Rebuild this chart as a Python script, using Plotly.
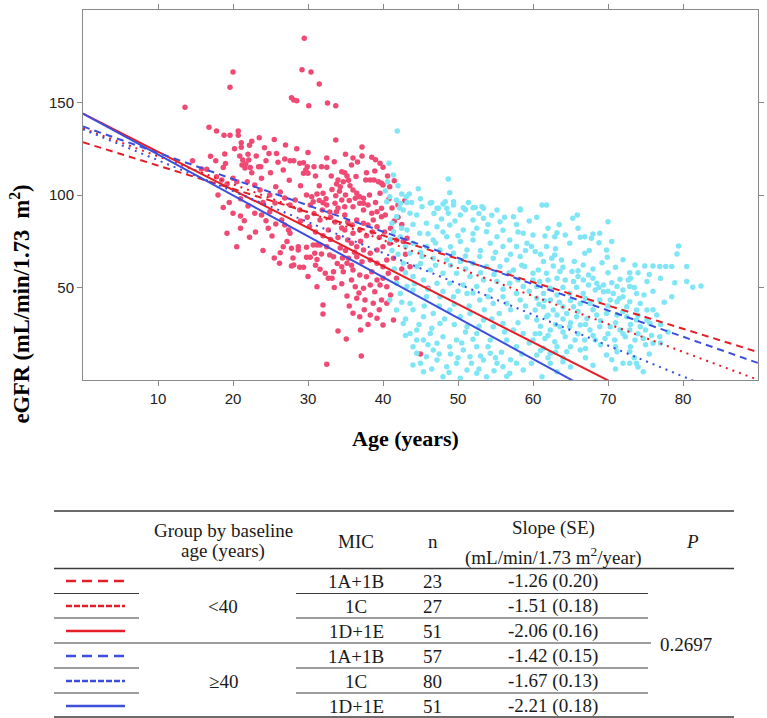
import plotly.graph_objects as go

W, H = 767, 718

# ---------------- data ----------------
red_age = [29.5,20.0,19.6,29.2,30.4,31.5,13.6,27.8,28.1,28.5,30.1,32.6,33.7,33.7,16.8,17.8,18.8,19.6,20.7,20.7,
           21.1,21.1,22.2,22.5,24.2,25.8,24.8,18.9,20.9,21.3,21.7,22.1,21.2,21.6,23.1,17.7,14.6,24.4,26.0,26.9,
           27.6,28.1,28.9,29.4,29.9,29.7,30.0,30.8,31.8,32.5,22.3,23.4,23.7,18.7,16.5,22.5,26.7,29.4,31.0,33.1,
           34.5,34.9,35.2,34.0,23.8,20.0,20.5,33.8,34.7,34.3,25.7,21.9,29.8,30.5,31.2,32.0,33.7,34.5,32.0,32.5,
           33.6,30.7,30.3,18.7,34.9,17.8,18.5,19.2,23.6,24.9,26.9,28.3,22.9,26.3,
           20.0,21.0,21.5,22.9,23.8,24.4,24.9,19.2,22.2,24.7,25.2,25.7,26.5,26.9,27.4,27.6,27.2,26.7,26.3,27.8,
           28.7,28.7,29.8,30.7,31.2,31.6,30.9,31.8,32.5,32.9,33.4,29.8,30.3,31.2,26.2,27.8,28.1,28.9,29.4,31.6,
           32.3,32.7,33.2,33.4,34.5,34.7,35.2,35.4,31.2,35.2,32.0,32.0,34.0,35.1,32.5,
           31.9,32.9,34.0,34.9,31.6,33.6,34.5,35.3,32.7,25.6,27.6,28.9,
           37.2,37.2,38.5,36.6,35.8,39.6,40.6,37.7,38.3,38.8,39.4,39.8,40.0,41.5,40.9,42.0,42.9,36.0,36.5,36.9,
           36.3,37.4,36.9,37.4,36.0,
           37.4,38.0,38.5,39.2,39.8,39.8,40.3,36.5,37.4,38.0,38.7,39.2,36.9,36.0,35.8,36.5,37.4,38.3,39.2,40.0,
           40.9,41.8,42.7,43.2,36.5,37.2,38.3,39.2,40.0,40.5,41.4,36.0,36.9,37.8,38.5,39.2,40.0,40.7,36.3,37.4,
           38.3,38.9,39.6,40.5,36.5,37.6,38.7,39.8,40.5,38.3,39.2,40.0,41.4,36.0,36.9,37.1,46.0,43.6,34.9,35.3,
           34.3,35.9,45.0,
           33.0,33.8,35.5,35.0,34.2,35.6,33.2,32.4,31.5,30.8,29.9,29.0,30.2,31.0,32.0,33.0,34.0,35.0,34.6,33.9,
           35.8,36.2,37.0,37.8,38.6,39.5,40.2,41.0,41.5,39.0,38.2,39.6,40.8,41.2,42.0,42.5,37.8,36.4,35.4,38.9,
           40.0,39.0,36.0,35.0,33.5,32.5,30.0,28.5,27.0,25.5,23.5,22.0,20.2,19.0,17.0,15.8,25.0,27.5,29.0,31.5,
           24.0,22.0,21.0,19.5,18.0,23.0,21.0,20.5,24.0,25.5,28.0,30.0,31.0,33.5,34.5,35.8,36.8,37.5,38.0,39.5,
           41.0,41.8,42.5,43.0,37.0,35.5]
red_egfr = [184.7,166.5,158.2,167.7,166.5,160.0,147.4,152.6,151.3,151.0,148.3,149.7,148.3,129.7,136.6,134.6,132.3,132.3,134.6,132.3,
            128.3,125.8,126.9,129.0,125.6,122.5,122.5,122.2,121.1,118.9,116.8,118.9,116.2,114.6,121.1,118.5,118.5,118.5,117.7,119.5,
            118.5,118.5,117.1,117.5,115.3,113.5,111.7,115.3,115.3,115.0,114.8,115.3,115.3,114.8,113.9,112.0,113.5,111.7,110.3,110.3,
            112.6,112.0,110.3,108.1,109.0,109.0,107.2,105.9,107.2,104.5,104.5,107.2,100.0,99.1,100.5,100.9,99.6,97.3,95.8,94.6,
            95.5,96.4,94.6,93.3,93.7,109.9,108.1,106.0,102.7,100.0,98.4,97.3,105.4,101.6,
            90.1,88.6,86.1,90.1,89.2,86.1,91.0,79.3,77.1,82.0,77.8,84.3,86.5,83.8,81.1,79.3,74.8,72.0,68.8,71.2,
            72.0,70.3,71.7,73.0,73.0,73.0,68.5,68.1,72.0,67.6,66.6,66.3,66.3,65.2,63.1,61.6,62.2,60.9,60.9,59.8,
            57.7,55.0,55.0,58.5,61.2,58.5,63.1,65.8,50.4,45.4,40.5,35.7,26.5,22.2,8.5,
            91.9,90.8,93.0,89.2,86.5,85.4,82.2,85.4,81.1,95.7,94.6,91.9,
            125.9,121.1,120.4,117.8,116.2,117.1,110.3,108.1,108.1,108.1,107.2,106.3,105.4,107.7,104.5,94.6,96.9,102.7,100.9,99.1,
            98.2,98.2,95.5,95.5,93.7,
            91.9,94.6,90.1,91.0,92.8,88.3,89.2,86.5,84.7,83.8,86.5,82.9,81.1,79.3,73.9,72.0,70.3,68.5,70.3,72.0,
            73.9,75.7,74.8,76.6,66.6,63.9,64.9,63.1,61.2,64.9,65.8,59.5,56.8,55.8,58.5,54.1,55.0,57.7,50.4,49.6,
            51.3,47.7,51.3,50.4,44.2,43.2,41.5,43.2,41.5,35.1,33.4,29.7,32.4,36.1,34.2,13.0,49.6,61.2,81.1,75.7,
            71.4,83.8,14.0,
            88,91,97,100,102,105,103,98,97,90,88,86,83,80,78,76,77,70,66,63,
            62,69,75,78,80,77,80,82,86,96,100,101,98,93,88,84,112,110,108,113,
            115,119,120,122,118,120,123,125,127,130,131,122,125,117,121,114,112,108,105,105,
            96,94,98,96,100,80,82,72,70,66,66,56,62,50,52,54,47,38,30,38,
            46,55,60,68,27,40]

cyan_age = [41.9,40.8,41.4,40.6,42.0,44.7,48.7,48.9,40.3,40.9,40.5,42.5,43.1,43.5,41.8,42.3,43.2,46.5,48.0,48.5,
            47.4,49.4,50.7,52.0,53.4,58.3,61.2,61.8,
            48.3,49.4,51.4,52.3,53.2,55.2,58.3,57.4,55.6,53.4,52.0,50.3,48.7,47.2,46.3,45.2,44.5,43.6,42.7,41.8,
            41.2,45.8,47.2,48.9,50.7,52.5,53.8,55.2,56.9,58.7,59.2,57.8,56.0,54.3,52.0,50.3,48.5,46.7,44.9,43.2,
            42.3,41.4,44.0,45.8,47.6,49.4,51.2,52.9,54.7,56.5,58.3,58.9,57.4,55.6,53.8,52.0,50.3,48.5,46.7,45.2,
            43.6,42.7,44.5,46.3,48.0,49.8,51.6,53.4,55.2,56.9,58.7,57.8,56.0,54.3,52.5,50.7,48.9,47.2,45.4,44.0,
            43.2,41.8,42.3,44.0,45.8,47.6,49.4,51.2,52.9,54.7,56.5,58.3,
            42.7,43.6,44.5,45.4,46.3,47.2,48.0,48.9,49.8,50.7,51.6,52.5,53.4,54.3,55.2,56.0,56.9,57.8,58.7,44.5,
            45.8,47.2,48.5,49.8,51.2,52.5,53.8,46.7,44.0,45.4,48.0,50.3,
            48.9,50.3,51.6,53.4,54.7,56.0,57.4,58.7,51.2,52.5,54.3,56.5,43.6,45.4,44.5,46.7,47.6,41.8,40.9,
            65.3,65.9,70.0,60.0,61.6,62.9,63.2,64.3,66.3,66.9,67.8,68.0,68.9,64.9,68.8,70.5,59.8,60.3,61.8,62.9,
            63.8,66.9,69.8,69.9,69.2,79.4,79.2,61.4,62.5,62.7,60.7,60.0,61.8,63.6,66.7,67.4,66.0,65.2,73.6,74.9,
            76.0,76.9,77.7,78.5,80.5,72.9,71.6,72.7,75.2,78.9,80.5,81.3,82.4,
            60.0,60.9,62.0,63.2,64.3,65.4,60.5,62.3,64.0,65.8,61.4,63.2,64.9,60.5,62.3,66.7,68.0,67.4,68.5,69.4,
            70.5,71.2,72.0,70.7,69.4,68.3,66.7,72.9,73.8,72.0,72.9,74.3,75.2,73.8,72.5,71.2,70.3,68.9,67.6,66.3,
            65.4,64.0,62.7,61.4,60.3,60.5,61.8,63.2,64.5,65.8,67.2,68.5,69.8,71.2,72.5,73.8,75.2,76.5,60.9,62.3,
            63.6,64.9,66.3,67.6,68.9,70.3,71.6,72.9,74.3,75.6,60.0,61.6,62.9,64.3,65.6,66.9,68.3,69.6,70.9,72.3,
            73.6,74.7,76.0,76.9,61.4,63.2,64.5,62.3,60.5,66.3,69.8,71.2,72.9,62.3,64.0,72.0,72.9,73.8,63.2,74.7,
            61.2,
            42.2,43.8,45.0,46.8,47.8,49.6,51.0,52.8,54.5,56.2,57.8,59.5,58.0,56.0,54.0,52.0,50.0,48.0,46.0,44.0,
            42.5,41.0,43.0,45.0,47.0,49.0,51.0,53.0,55.0,57.0,59.0,58.5,56.8,54.8,53.0,51.0,49.0,47.0,45.0,43.0,
            41.5,42.0,41.2,44.2,46.0,48.0,50.0,52.0,54.0,56.0,58.0,59.5,59.0,57.0,55.5,53.5,51.5,49.5,47.5,45.5,
            44.0,42.5,43.0,44.8,46.5,48.2,49.5,51.0,52.8,54.5,56.2,58.0,59.2,59.5,57.8,55.8,54.0,52.0,50.5,49.0,
            47.5,46.0,44.0,43.0,45.0,46.5,48.8,50.0,51.8,53.0,55.0,57.0,58.5,59.8,54.8,52.8,56.5,
            60.5,62.0,63.5,66.0,67.5,65.5,63.0,61.0,64.0,66.0,68.0,70.0,71.0,72.0,73.0,74.0,75.5,77.0,76.0,74.8,
            73.5,71.5,70.0,68.8,67.0,65.0,63.5,61.5,60.8,62.0,64.0,66.0,68.0,70.0,72.0,74.0,76.0,77.5,78.5,77.0,
            75.0,73.0,71.0,69.0,67.0,65.0,63.0,61.0,60.3,62.0,64.0,66.0,68.0,70.0,72.0,74.0,75.8,78.0,77.0,75.0,
            73.0,71.0,69.0,67.0,65.0,63.0,61.0,62.0,64.0,67.0,70.5,73.5,75.5,65.0,68.0,71.0,74.0]
cyan_egfr = [134.6,117.1,110.8,107.2,105.0,103.4,108.6,101.2,102.2,99.1,96.4,100.5,99.1,100.5,97.3,95.5,96.0,96.0,95.1,92.8,
             92.8,96.4,93.1,93.1,92.8,92.4,94.6,94.6,
             96.4,94.6,95.9,93.3,93.7,91.9,91.9,88.3,85.6,87.4,86.5,89.2,90.1,92.8,95.5,93.7,89.2,90.1,91.9,88.3,
             84.7,84.7,82.9,83.8,81.1,82.0,80.2,77.5,75.7,79.3,73.9,72.1,72.1,73.9,75.7,74.8,77.5,75.7,79.3,81.1,
             77.5,80.2,73.9,72.1,70.3,68.5,70.3,66.7,65.8,64.9,66.7,61.3,59.5,61.3,61.3,63.1,64.0,64.9,65.8,66.7,
             68.5,63.1,61.3,59.5,57.7,57.7,55.9,54.1,53.2,52.3,50.5,46.8,45.0,48.7,50.5,51.4,52.3,52.3,54.1,55.9,
             50.5,52.3,46.8,48.7,45.0,45.0,45.0,46.8,43.2,41.4,41.4,43.2,
             30.6,25.2,27.0,21.6,25.2,19.8,23.4,18.0,21.6,16.2,12.6,18.0,10.8,14.4,9.0,7.2,3.6,9.0,5.4,14.4,
             12.6,10.8,7.2,9.0,5.4,3.6,1.8,16.2,8.1,4.5,1.8,0.9,
             37.8,34.2,36.0,32.4,28.8,30.6,27.0,25.2,28.8,25.2,21.6,21.6,41.4,34.2,21.6,36.0,30.6,37.8,43.2,
             87.4,89.2,85.6,78.4,77.8,77.5,79.6,78.4,77.1,77.5,76.6,78.9,79.3,73.9,74.2,74.8,72.1,69.4,72.1,67.6,
             64.9,68.5,70.3,66.3,63.4,72.4,68.1,64.0,65.8,61.6,59.5,57.7,57.7,58.6,62.2,56.8,55.9,58.6,62.2,61.6,
             61.6,61.3,61.3,61.3,61.3,58.0,54.4,54.1,53.2,52.6,53.2,50.1,50.8,
             54.1,53.2,54.1,55.0,54.1,53.2,50.5,49.6,50.1,50.1,46.8,46.0,46.8,44.2,43.2,54.1,55.0,51.4,52.3,51.4,
             52.6,50.5,48.7,46.8,47.7,48.7,46.8,50.5,46.8,45.0,42.3,41.4,37.8,37.8,39.6,42.3,43.2,43.2,41.4,41.4,
             39.6,39.6,37.8,39.6,37.8,32.4,34.2,35.1,36.0,34.2,33.3,35.1,36.0,35.1,34.2,32.4,32.4,35.1,25.2,27.0,
             28.8,28.8,29.7,27.0,28.8,28.8,27.0,27.0,28.8,30.6,21.6,22.5,20.7,23.4,21.6,21.6,21.6,22.5,21.6,23.4,
             21.6,22.5,19.8,23.4,17.1,18.0,15.3,14.4,13.5,16.2,13.5,15.3,15.3,9.0,9.9,9.0,9.0,9.0,4.5,4.5,
             1.8,
             93,96,98,90,87,86,92,90,89,88,84,86,80,81,84,79,78,80,79,84,
             82,76,72,69,74,72,67,70,69,68,70,62,58,57,58,60,62,62,63,58,
             60,68,70,52,49,48,48,47,45,49,54,48,40,38,36,38,40,41,40,40,
             38,42,33,30,28,33,30,26,29,33,26,31,34,20,18,15,18,22,20,14,
             14,19,18,24,9,6,4,12,9,13,12,11,14,9,5,6,2,
             88,82,84,82,70,64,71,68,61,59,60,58,61,65,55,58,57,55,48,46,
             50,44,48,50,44,43,42,43,41,35,33,37,38,40,37,35,38,42,45,30,
             27,30,31,32,30,31,30,29,25,24,26,25,24,25,25,25,24,26,20,19,
             18,18,19,17,18,15,16,12,12,12,11,12,14,7,8,6,7]

# regression lines (intercept, slope) per group / MIC
line_names = ["<40 1A+1B", "<40 1C", "<40 1D+1E", "≥40 1A+1B", "≥40 1C", "≥40 1D+1E"]
line_intercepts = [128.5, 136.0, 144.0, 137.0, 135.5, 144.0]
line_slopes = [-1.26, -1.51, -2.06, -1.42, -1.67, -2.21]
line_colors = ["#e41e26", "#e41e26", "#e41e26", "#3c4fdc", "#3c4fdc", "#3c4fdc"]
line_dash = ["7px,5px", "2px,5px", "solid", "7px,5px", "2px,5px", "solid"]
x_span = [0, 90]

# table content
tbl_group = ["&lt;40", "≥40"]
tbl_mic = ["1A+1B", "1C", "1D+1E", "1A+1B", "1C", "1D+1E"]
tbl_n = ["23", "27", "51", "57", "80", "51"]
tbl_slope = ["-1.26 (0.20)", "-1.51 (0.18)", "-2.06 (0.16)", "-1.42 (0.15)", "-1.67 (0.13)", "-2.21 (0.18)"]
tbl_p = "0.2697"
tbl_sample_dash = ["10px,6px", "6px,2px", "solid", "10px,6px", "6px,2px", "solid"]

# ---------------- figure ----------------
fig = go.Figure()
fig.add_trace(go.Scatter(x=red_age, y=red_egfr, mode="markers",
                         marker=dict(color="#f04a74", size=5.5), hoverinfo="skip", showlegend=False))
fig.add_trace(go.Scatter(x=cyan_age, y=cyan_egfr, mode="markers",
                         marker=dict(color="#80e6f6", size=5.5), hoverinfo="skip", showlegend=False))
for name, a, b, c, d in zip(line_names, line_intercepts, line_slopes, line_colors, line_dash):
    fig.add_trace(go.Scatter(x=x_span, y=[a + b * x_span[0], a + b * x_span[1]], mode="lines",
                             line=dict(color=c, width=2, dash=d), name=name, showlegend=False,
                             hoverinfo="skip"))

def px(x):
    return x / W

def py(y):
    return 1 - y / H

PL, PR, PT, PB = 83, 758, 10, 380
axcol = "#8a8a8a"
tickfont = dict(family="Liberation Sans", size=15, color="#222")
fig.update_layout(
    width=W, height=H, autosize=False,
    margin=dict(l=0, r=0, t=0, b=0),
    paper_bgcolor="white", plot_bgcolor="white",
    xaxis=dict(domain=[px(PL), px(PR)], range=[0, 90], tickvals=[10, 20, 30, 40, 50, 60, 70, 80],
               showgrid=False, zeroline=False, showline=True, linecolor=axcol, linewidth=1,
               mirror="allticks", ticks="outside", ticklen=5, tickcolor=axcol,
               tickfont=tickfont, automargin=False),
    yaxis=dict(domain=[py(PB), py(PT)], range=[0, 200], tickvals=[50, 100, 150],
               showgrid=False, zeroline=False, showline=True, linecolor=axcol, linewidth=1,
               mirror="allticks", ticks="outside", ticklen=5, tickcolor=axcol,
               tickfont=tickfont, automargin=False),
)

ann = []
serif = "Liberation Serif"
ann.append(dict(text="<b>Age (years)</b>", x=px(405), y=py(438), xref="paper", yref="paper",
                showarrow=False, font=dict(family=serif, size=22, color="black")))
ann.append(dict(text="<b>eGFR (mL/min/1.73\u00a0\u00a0m<sup>2</sup>)</b>", x=px(4), y=py(183),
                xref="paper", yref="paper", showarrow=False, textangle=-90,
                font=dict(family=serif, size=22.5, color="black")))

# table layout
tf = dict(family=serif, size=19, color="#1a1a1a")
col_group, col_mic, col_n, col_slope, col_p = 223, 356, 433, 553, 692
row_y = [581, 606, 631, 656, 681, 706]

def t(text, x, y, font=tf):
    ann.append(dict(text=text, x=px(x), y=py(y), xref="paper", yref="paper",
                    showarrow=False, font=font, xanchor="center", yanchor="middle"))

t("Group by baseline", col_group, 530)
t("age (years)", col_group, 551)
t("MIC", col_mic, 541)
t("n", col_n, 541)
t("Slope (SE)", col_slope, 528)
t("(mL/min/1.73 m<sup>2</sup>/year)", col_slope, 556)
t("<i>P</i>", col_p, 541)
for i in range(6):
    t(tbl_mic[i], col_mic, row_y[i])
    t(tbl_n[i], col_n, row_y[i])
    t(tbl_slope[i], col_slope, row_y[i])
t(tbl_group[0], col_group, row_y[1])
t(tbl_group[1], col_group, row_y[4])
t(tbl_p, col_p - 6, 644)

shapes = []
def hline(x0, x1, y, w=1.0, color="#3a3a3a"):
    shapes.append(dict(type="line", xref="paper", yref="paper", x0=px(x0), x1=px(x1),
                       y0=py(y), y1=py(y), line=dict(color=color, width=w)))

hline(54, 734, 511, 1.3)
hline(54, 734, 568.5, 1.3)
hline(54, 734, 717, 1.3)
hline(54, 651, 643)
for yy in [593.5, 618, 668, 693]:
    hline(54, 139, yy)
    hline(296, 648, yy)
for i in range(6):
    shapes.append(dict(type="line", xref="paper", yref="paper", x0=px(66), x1=px(125),
                       y0=py(row_y[i]), y1=py(row_y[i]),
                       line=dict(color=line_colors[i], width=2.5, dash=tbl_sample_dash[i])))

fig.update_layout(annotations=ann, shapes=shapes)
fig.write_html("out.html", config={"displayModeBar": False},
               post_script="document.body.style.margin='0px';document.body.style.padding='0px';")
